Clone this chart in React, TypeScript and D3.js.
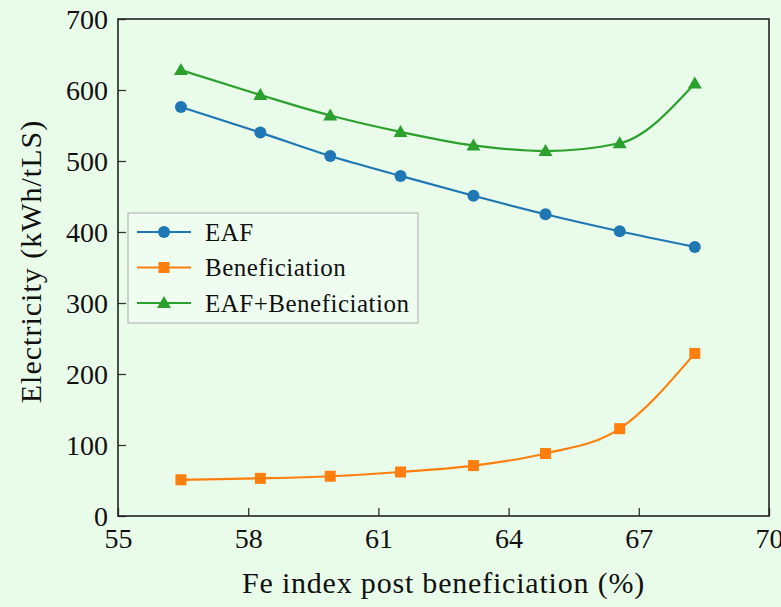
import React, { useEffect, useRef } from 'react'
import * as d3 from 'd3'

const feIndex = [56.45, 58.28, 59.89, 61.51, 63.19, 64.85, 66.56, 68.29]
const eaf = [576, 540, 507, 479, 451, 425, 401, 379]
const beneficiation = [51, 53, 56, 62, 71, 88, 123, 229]
const eafPlusBen = [628, 593, 564, 541, 522, 514, 525, 609]
const xTicks = [55, 58, 61, 64, 67, 70]
const yTicks = [0, 100, 200, 300, 400, 500, 600, 700]

const W = 781
const H = 607
const FONT = 'Liberation Serif, DejaVu Serif, serif'

export default function App() {
  const ref = useRef<SVGSVGElement>(null)

  useEffect(() => {
    const svg = d3.select(ref.current)
    svg.selectAll('*').remove()

    const margin = { left: 118, top: 19, right: 12, bottom: 91 }
    const w = W - margin.left - margin.right
    const h = H - margin.top - margin.bottom

    svg.append('rect').attr('width', W).attr('height', H).attr('fill', '#e9fcea')

    const x = d3.scaleLinear().domain([55, 70]).range([0, w])
    const y = d3.scaleLinear().domain([0, 700]).range([h, 0])

    const g = svg.append('g').attr('transform', `translate(${margin.left},${margin.top})`)

    // ticks point inward
    const xAxis = d3.axisBottom(x).tickValues(xTicks).tickSize(-8).tickPadding(12)
    const yAxis = d3.axisLeft(y).tickValues(yTicks).tickSize(-8).tickPadding(10)

    const gx = g.append('g').attr('transform', `translate(0,${h})`).call(xAxis)
    const gy = g.append('g').call(yAxis)
    ;[gx, gy].forEach((a) => {
      a.attr('font-family', FONT).attr('font-size', 28)
      a.select('.domain').remove()
      a.selectAll('line').attr('stroke', '#333').attr('stroke-width', 1.3)
      a.selectAll('text').attr('fill', '#111')
    })
    gy.selectAll('text').attr('dy', '0.35em')

    g.append('rect')
      .attr('width', w).attr('height', h)
      .attr('fill', 'none').attr('stroke', '#222').attr('stroke-width', 1.6)

    const series = [
      { name: 'EAF', values: eaf, color: '#1f77b4', marker: 'circle' },
      { name: 'Beneficiation', values: beneficiation, color: '#ff7f0e', marker: 'square' },
      { name: 'EAF+Beneficiation', values: eafPlusBen, color: '#2ca02c', marker: 'triangle' },
    ]

    const line = d3.line<number>()
      .x((_, i) => x(feIndex[i]))
      .y((d) => y(d))
      .curve(d3.curveMonotoneX)

    const drawMarker = (sel: any, kind: string, color: string, cx: number, cy: number) => {
      if (kind === 'circle') {
        sel.append('circle').attr('cx', cx).attr('cy', cy).attr('r', 6).attr('fill', color)
      } else if (kind === 'square') {
        sel.append('rect').attr('x', cx - 5.5).attr('y', cy - 5.5)
          .attr('width', 11).attr('height', 11).attr('fill', color)
      } else {
        sel.append('path')
          .attr('d', `M${cx},${cy - 7}L${cx + 7},${cy + 5}L${cx - 7},${cy + 5}Z`)
          .attr('fill', color)
      }
    }

    series.forEach((s) => {
      g.append('path')
        .attr('d', line(s.values))
        .attr('fill', 'none')
        .attr('stroke', s.color)
        .attr('stroke-width', 2.2)
      s.values.forEach((v, i) => drawMarker(g, s.marker, s.color, x(feIndex[i]), y(v)))
    })

    // legend
    const leg = svg.append('g').attr('transform', 'translate(128,213)')
    leg.append('rect')
      .attr('width', 290).attr('height', 110)
      .attr('fill', '#eefdf0').attr('stroke', '#aaa').attr('stroke-width', 1)
    series.forEach((s, i) => {
      const cy = 19 + i * 35.5
      leg.append('line')
        .attr('x1', 9).attr('x2', 63).attr('y1', cy).attr('y2', cy)
        .attr('stroke', s.color).attr('stroke-width', 2.2)
      drawMarker(leg, s.marker, s.color, 36, cy)
      leg.append('text')
        .attr('x', 77).attr('y', cy).attr('dy', '0.35em')
        .attr('fill', '#111')
        .attr('font-family', FONT)
        .attr('font-size', 25)
        .attr('letter-spacing', 0.5)
        .text(s.name)
    })

    svg.append('text')
      .attr('x', margin.left + w / 2).attr('y', 593)
      .attr('text-anchor', 'middle')
      .attr('fill', '#111')
      .attr('font-family', FONT)
      .attr('font-size', 30)
      .attr('letter-spacing', 0.8)
      .text('Fe index post beneficiation (%)')

    svg.append('text')
      .attr('transform', `translate(41,${margin.top + h / 2 - 6}) rotate(-90)`)
      .attr('text-anchor', 'middle')
      .attr('fill', '#111')
      .attr('font-family', FONT)
      .attr('font-size', 30)
      .attr('letter-spacing', 1)
      .text('Electricity (kWh/tLS)')
  }, [])

  return (
    <svg ref={ref} width={W} height={H}
      style={{ display: 'block', position: 'fixed', left: 0, top: 0 }} />
  )
}
